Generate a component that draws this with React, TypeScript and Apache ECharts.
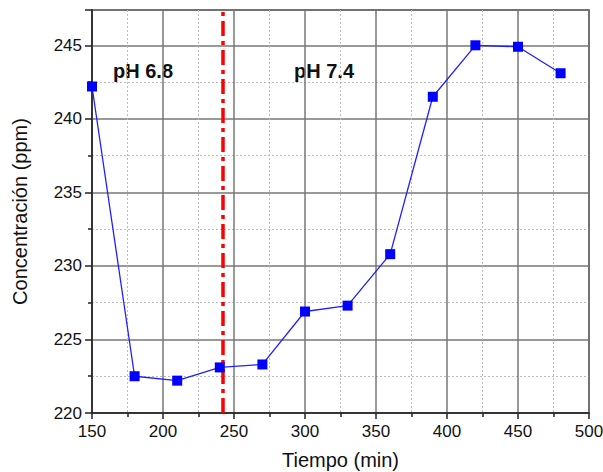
import React, { useEffect, useRef } from "react";
import * as echarts from "echarts";

const tiempo = [150, 180, 210, 240, 270, 300, 330, 360, 390, 420, 450, 480];
const concentracion = [242.2, 222.5, 222.2, 223.1, 223.3, 226.9, 227.3, 230.8, 241.5, 245.0, 244.9, 243.1];
const phBoundary = 242;
const phLabels = ["pH 6.8", "pH 7.4"];
const xName = "Tiempo (min)";
const yName = "Concentración (ppm)";

export default function App() {
  const ref = useRef<HTMLDivElement>(null);
  useEffect(() => {
    if (!ref.current) return;
    const chart = echarts.init(ref.current, null, { renderer: "svg" });
    const font = "Liberation Sans, Arial, sans-serif";
    chart.setOption({
      animation: false,
      grid: {
        left: 92,
        right: 14,
        top: 10,
        bottom: 59,
        containLabel: false,
        outerBoundsMode: "none",
        show: true,
        borderColor: "#333",
        borderWidth: 1.5,
        backgroundColor: "transparent",
      },
      xAxis: {
        type: "value",
        min: 150,
        max: 500,
        interval: 50,
        name: xName,
        nameLocation: "middle",
        nameGap: 37,
        nameTextStyle: { fontFamily: font, fontSize: 20, color: "#111" },
        axisLine: { show: true, lineStyle: { color: "#222", width: 1.5 } },
        axisTick: { show: true, length: 6, lineStyle: { color: "#222", width: 1.5 } },
        minorTick: { show: true, splitNumber: 2, length: 4, lineStyle: { color: "#222", width: 1.5 } },
        axisLabel: { fontFamily: font, fontSize: 17, color: "#111", margin: 10 },
        splitLine: { show: true, lineStyle: { color: "#777", width: 1.5 } },
        minorSplitLine: { show: true, lineStyle: { color: "#bbb", width: 1, type: [2, 2] } },
      },
      yAxis: {
        type: "value",
        min: 220,
        max: 247.4,
        interval: 5,
        name: yName,
        nameLocation: "middle",
        nameGap: 62,
        nameTextStyle: { fontFamily: font, fontSize: 20, color: "#111" },
        axisLine: { show: true, lineStyle: { color: "#222", width: 1.5 } },
        axisTick: { show: true, length: 7, lineStyle: { color: "#222", width: 1.5 } },
        minorTick: { show: true, splitNumber: 2, length: 4, lineStyle: { color: "#222", width: 1.5 } },
        axisLabel: {
          fontFamily: font,
          fontSize: 17,
          color: "#111",
          margin: 10,
          showMaxLabel: false,
          formatter: (v: number) => (v % 5 === 0 ? String(v) : ""),
        },
        splitLine: { show: true, lineStyle: { color: "#777", width: 1.5 } },
        minorSplitLine: { show: true, lineStyle: { color: "#bbb", width: 1, type: [2, 2] } },
      },
      series: [
        {
          type: "line",
          data: tiempo.map((t, i) => [t, concentracion[i]]),
          symbol: "rect",
          symbolSize: 10,
          lineStyle: { color: "#2020ff", width: 1.3 },
          itemStyle: { color: "#0000ff" },
          z: 5,
          markLine: {
            silent: true,
            symbol: ["none", "none"],
            label: { show: false },
            lineStyle: { color: "#ff0000", width: 3.5, type: [15, 5, 4, 5] },
            data: [{ xAxis: phBoundary }],
          },
        },
      ],
      graphic: [
        {
          type: "text",
          x: 113,
          y: 71,
          style: {
            text: phLabels[0],
            font: "bold 20px Liberation Sans, Arial, sans-serif",
            fill: "#111",
            textVerticalAlign: "middle",
          },
        },
        {
          type: "text",
          x: 294,
          y: 71,
          style: {
            text: phLabels[1],
            font: "bold 20px Liberation Sans, Arial, sans-serif",
            fill: "#111",
            textVerticalAlign: "middle",
          },
        },
      ],
    });
    return () => chart.dispose();
  }, []);
  return <div ref={ref} style={{ width: 603, height: 472, position: "absolute", left: 0, top: 0 }} />;
}
